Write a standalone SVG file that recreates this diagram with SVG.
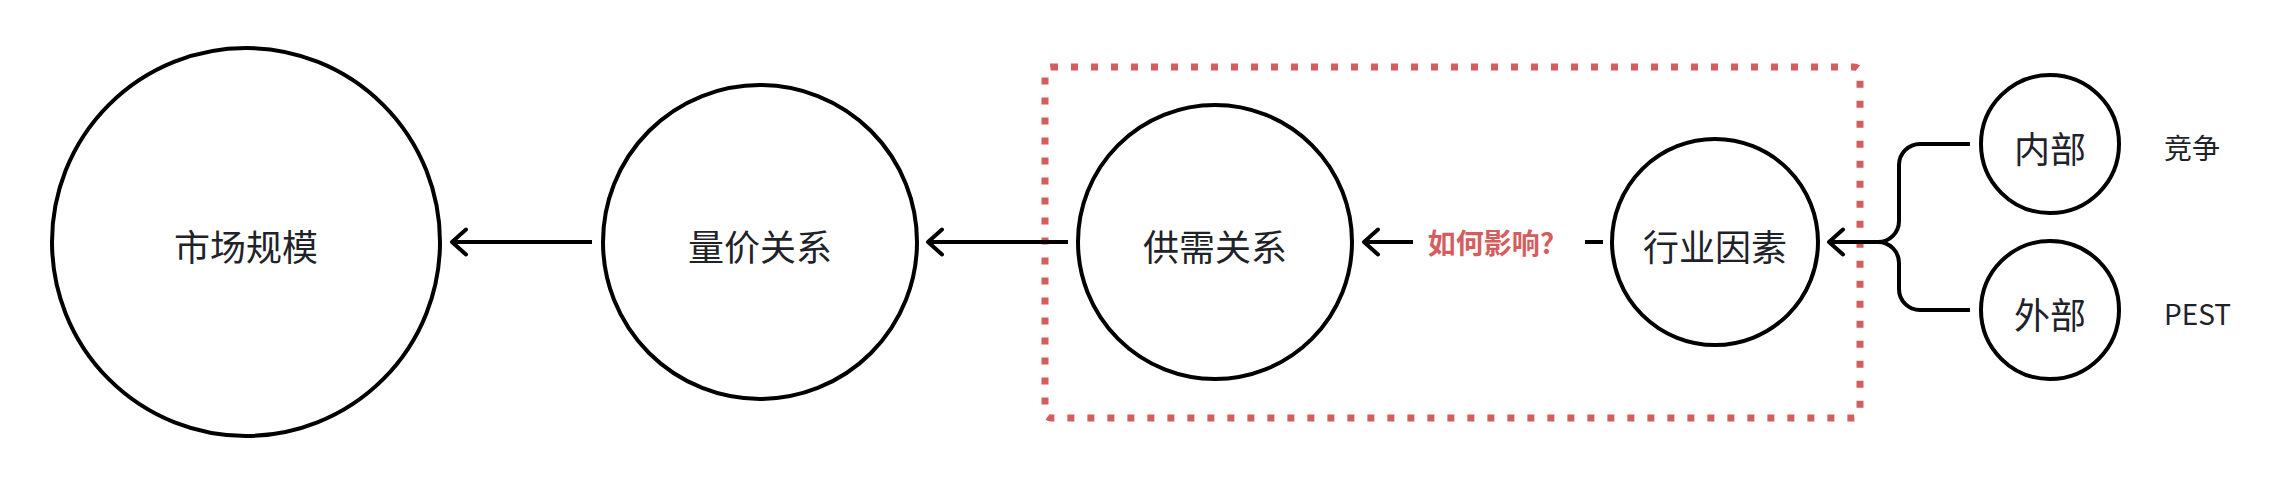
<svg xmlns="http://www.w3.org/2000/svg" width="2280" height="484" viewBox="0 0 2280 484">
<defs>
<style>
.node{fill:#ffffff;stroke:#000000;stroke-width:4}
.lbl{font-family:"Noto Sans CJK SC","Noto Sans",sans-serif;font-size:36px;fill:#1f2329;text-anchor:middle;dominant-baseline:central}
.side{font-family:"Noto Sans CJK SC","Noto Sans",sans-serif;font-size:28px;fill:#1f2329;text-anchor:start;dominant-baseline:central}
.edge{fill:none;stroke:#000000;stroke-width:4}
.red{font-family:"Noto Sans CJK SC","Noto Sans",sans-serif;font-size:28px;font-weight:bold;fill:#d65d5d;text-anchor:middle;dominant-baseline:central}
.frame{fill:none;stroke:#d65d5d;stroke-width:7;stroke-dasharray:7 13}
</style>
<marker id="arr" viewBox="-18 -16 22 32" refX="0" refY="0" markerWidth="22" markerHeight="32" markerUnits="userSpaceOnUse" orient="auto">
<path d="M-14,-12.5 L0,0 L-14,12.5" fill="none" stroke="#000000" stroke-width="4" stroke-linecap="round" stroke-linejoin="round"/>
</marker>
</defs>
<rect width="2280" height="484" fill="#ffffff"/>
<rect id="frame" class="frame" x="1045" y="67" width="815" height="351" rx="6"/>
<g id="connectors">
<path class="edge" d="M592,242 H452" marker-end="url(#arr)"/>
<path class="edge" d="M1068,242 H928" marker-end="url(#arr)"/>
<path class="edge" d="M1413,242 H1364" marker-end="url(#arr)"/>
<path class="edge" d="M1603,242 H1585"/>
<path class="edge" d="M1970,144 H1920 A21,21 0 0 0 1899,165 V221 A21,21 0 0 1 1878,242 H1829" marker-end="url(#arr)"/>
<path class="edge" d="M1970,310 H1920 A21,21 0 0 1 1899,289 V263 A21,21 0 0 0 1878,242"/>
<text class="red" x="1491" y="242">如何影响?</text>
</g>
<g id="market"><circle class="node" cx="246" cy="242" r="194"/><text class="lbl" x="246" y="245">市场规模</text></g>
<g id="volprice"><circle class="node" cx="760" cy="242" r="157"/><text class="lbl" x="760" y="245">量价关系</text></g>
<g id="supply"><circle class="node" cx="1215" cy="242" r="137"/><text class="lbl" x="1215" y="245">供需关系</text></g>
<g id="industry"><circle class="node" cx="1715" cy="242" r="103"/><text class="lbl" x="1715" y="245">行业因素</text></g>
<g id="internal"><circle class="node" cx="2050" cy="144" r="69"/><text class="lbl" x="2050" y="147">内部</text></g>
<g id="external"><circle class="node" cx="2050" cy="310" r="69"/><text class="lbl" x="2050" y="313">外部</text></g>
<g id="compete"><text class="side" x="2164" y="147">竞争</text></g>
<g id="pest"><text class="side" x="2164" y="313">PEST</text></g>
</svg>
